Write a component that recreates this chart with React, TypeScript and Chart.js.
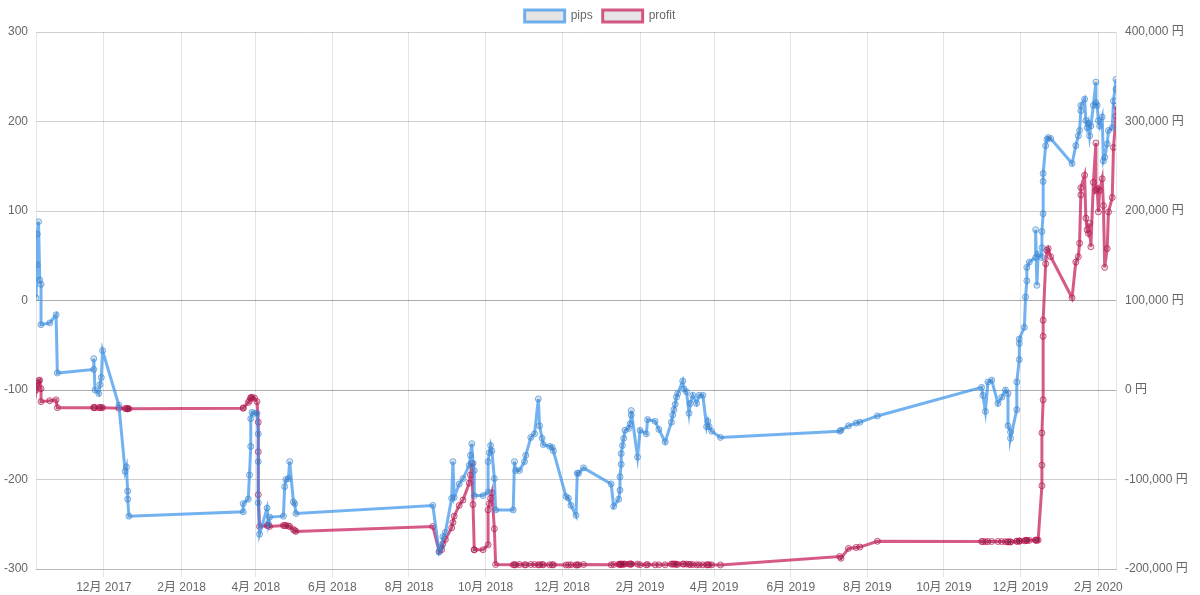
import React, { useEffect, useRef } from "react";
import { Chart, registerables } from "chart.js";

Chart.register(...registerables);

const dates: string[] = [
  "2017-10-08","2017-10-09","2017-10-09","2017-10-10","2017-10-11","2017-10-12","2017-10-12","2017-10-19","2017-10-24","2017-10-25",
  "2017-11-23","2017-11-23","2017-11-24","2017-11-27","2017-11-28","2017-11-29","2017-11-30","2017-12-13","2017-12-18","2017-12-19",
  "2017-12-20","2017-12-20","2017-12-21",
  "2018-03-22","2018-03-22","2018-03-26","2018-03-27","2018-03-28","2018-03-28","2018-03-29","2018-03-31","2018-04-02","2018-04-03",
  "2018-04-03","2018-04-03","2018-04-04","2018-04-10","2018-04-11","2018-04-12","2018-04-23","2018-04-24","2018-04-25","2018-04-27",
  "2018-04-28","2018-05-01","2018-05-02","2018-05-03",
  "2018-08-20","2018-08-25","2018-08-27","2018-08-28","2018-08-30","2018-09-04","2018-09-05","2018-09-06","2018-09-10","2018-09-13",
  "2018-09-18","2018-09-19","2018-09-20","2018-09-21","2018-09-22","2018-09-22","2018-09-29","2018-10-03","2018-10-03","2018-10-04",
  "2018-10-05","2018-10-06","2018-10-08","2018-10-09","2018-10-23","2018-10-24","2018-10-25","2018-10-28","2018-11-01","2018-11-02",
  "2018-11-06","2018-11-09","2018-11-12","2018-11-13","2018-11-15","2018-11-16","2018-11-21","2018-11-23","2018-11-24","2018-12-04",
  "2018-12-06","2018-12-08","2018-12-12","2018-12-13","2018-12-14","2018-12-18",
  "2019-01-09","2019-01-11","2019-01-15","2019-01-16","2019-01-16","2019-01-17","2019-01-17","2019-01-18","2019-01-19","2019-01-20",
  "2019-01-23","2019-01-24","2019-01-25","2019-01-25","2019-01-30","2019-02-01","2019-02-06","2019-02-07","2019-02-13","2019-02-16",
  "2019-02-21","2019-02-26","2019-02-27","2019-02-28","2019-03-01","2019-03-02","2019-03-03","2019-03-07","2019-03-08","2019-03-10",
  "2019-03-12","2019-03-13","2019-03-15","2019-03-18","2019-03-20","2019-03-23","2019-03-26","2019-03-27","2019-03-28","2019-03-30",
  "2019-04-06",
  "2019-07-10","2019-07-11","2019-07-17","2019-07-23","2019-07-26","2019-08-09",
  "2019-10-31","2019-11-01","2019-11-03","2019-11-05","2019-11-08","2019-11-13","2019-11-16","2019-11-19","2019-11-21","2019-11-21",
  "2019-11-23","2019-11-23","2019-11-28","2019-11-28","2019-11-30","2019-11-30","2019-11-30","2019-12-04","2019-12-05","2019-12-06",
  "2019-12-06","2019-12-08","2019-12-13","2019-12-13","2019-12-14","2019-12-15","2019-12-18","2019-12-18","2019-12-18","2019-12-19",
  "2019-12-19","2019-12-19","2019-12-21","2019-12-22","2019-12-23","2019-12-25",
  "2020-01-11","2020-01-14","2020-01-16","2020-01-17","2020-01-18","2020-01-18","2020-01-21","2020-01-22","2020-01-23","2020-01-24",
  "2020-01-25","2020-01-26","2020-01-28","2020-01-30","2020-01-30","2020-01-31","2020-02-01","2020-02-02","2020-02-04","2020-02-05",
  "2020-02-06","2020-02-08","2020-02-09","2020-02-12","2020-02-13","2020-02-15","2020-02-15"
];

const pips: number[] = [
  3, 40, 74, 88, 23, 18, -27, -25, -16, -81,
  -77, -65, -100, -104, -94, -86, -56, -117, -191, -186,
  -213, -222, -241,
  -236, -227, -222, -195, -163, -132, -125, -126, -126, -149,
  -180, -226, -261, -232, -249, -242, -241, -208, -200, -199,
  -180, -225, -227, -238,
  -229, -281, -275, -264, -259, -221, -180, -220, -205, -199,
  -184, -173, -160, -182, -190, -218, -218, -214, -180, -170,
  -162, -168, -199, -234, -234, -180, -190, -190, -180, -173,
  -153, -149, -110, -140, -154, -161, -163, -164, -168, -219,
  -221, -229, -240, -193, -193, -187,
  -205, -230, -222, -212, -197, -183, -171, -162, -154, -145,
  -143, -138, -128, -123, -175, -145, -149, -133, -135, -144,
  -158, -136, -128, -122, -116, -108, -104, -90, -99, -102,
  -126, -115, -106, -115, -106, -106, -141, -135, -141, -146,
  -153,
  -146, -145, -140, -137, -136, -129,
  -97, -106, -124, -91, -89, -115, -108, -100, -104, -140,
  -147, -154, -122, -91, -66, -48, -43, -30, 4, 22,
  37, 43, 48, 79, 17, 52, 48, 59, 77, 97,
  133, 142, 173, 180, 182, 181,
  153, 173, 184, 190, 212, 218, 225, 201, 193, 198,
  184, 195, 218, 244, 221, 218, 201, 195, 205, 156,
  160, 175, 190, 193, 223, 247, 236
];

const profit: number[] = [
  0, 7500, 3700, 10400, 11000, 1500, -13000, -12000, -11000, -19700,
  -19700, -19500, -19700, -19700, -19500, -19700, -19700, -20400, -20700, -20900,
  -20900, -20900, -20900,
  -20400, -20000, -14000, -12000, -9300, -8500, -8100, -9000, -13000, -36000,
  -69000, -117000, -152500, -151400, -151400, -152500, -151400, -151400, -151400, -152000,
  -152500, -156000, -157000, -158000,
  -152500, -180500, -178500, -172000, -167000, -154000, -148000, -141000, -129000, -123000,
  -104000, -95000, -82000, -128000, -178500, -178500, -178500, -173000, -134000, -127000,
  -121000, -115000, -155000, -195000, -195300, -195300, -195300, -195000, -195300, -195300,
  -195000, -195000, -195300, -195300, -195000, -195300, -195300, -195300, -195300, -195500,
  -195500, -195300, -195500, -195500, -195300, -195000,
  -195300, -195000, -194800, -194800, -194500, -194500, -194800, -194800, -194500, -194500,
  -194500, -194500, -194500, -194500, -194500, -195300, -195300, -195000, -195300, -195300,
  -195300, -194500, -194500, -194500, -194500, -194800, -194800, -194500, -194500, -194500,
  -194800, -195000, -195000, -195300, -195300, -195300, -195300, -195300, -195300, -195300,
  -195500,
  -186000, -188000, -177000, -176000, -175500, -169000,
  -169300, -169300, -169500, -169300, -169300, -169300, -169300, -169500, -169700, -169700,
  -169700, -169700, -169000, -169000, -168800, -168800, -168800, -168500, -168000, -168000,
  -168000, -168000, -167800, -167800, -167800, -167800, -107000, -84000, -48000, -11000,
  60000, 78000, 141000, 156000, 158000, 149000,
  103000, 143000, 149000, 164000, 218000, 226000, 240000, 192000, 179000, 175000,
  186000, 160000, 232000, 276000, 223000, 225000, 199000, 223000, 236000, 206000,
  137000, 158000, 199000, 215000, 271000, 306000, 317000
];

const xTickMonths: string[] = [
  "2017-12", "2018-02", "2018-04", "2018-06", "2018-08", "2018-10", "2018-12",
  "2019-02", "2019-04", "2019-06", "2019-08", "2019-10", "2019-12", "2020-02"
];

const seriesNames: string[] = ["pips", "profit"];
const pipsRange: number[] = [-300, 300, 100];
const profitRange: number[] = [-200000, 400000, 100000];

const BLUE = "rgba(54,145,235,0.7)";
const RED = "rgba(196,20,85,0.7)";
const GRID = "rgba(0,0,0,0.1)";
const ZERO = "rgba(0,0,0,0.25)";

function toTs(s: string): number {
  const [y, m, d] = s.split("-").map(Number);
  return Date.UTC(y, m - 1, d || 1);
}

export default function App() {
  const ref = useRef<HTMLCanvasElement | null>(null);

  useEffect(() => {
    if (!ref.current) return;
    Chart.defaults.font.family =
      "'Helvetica Neue', Helvetica, Arial, 'Liberation Sans', 'Noto Sans CJK JP', sans-serif";
    Chart.defaults.font.size = 12;
    Chart.defaults.color = "#666";

    const xs = dates.map(toTs);
    const zeroColor = (ctx: any) => (ctx.tick && ctx.tick.value === 0 ? ZERO : GRID);

    const chart = new Chart(ref.current, {
      type: "line",
      data: {
        datasets: [
          {
            label: seriesNames[0],
            data: xs.map((x, i) => ({ x, y: pips[i] })),
            yAxisID: "y",
            borderColor: BLUE,
            backgroundColor: "rgba(0,0,0,0.1)",
            borderWidth: 3,
            fill: false,
            tension: 0,
            pointRadius: 3,
            pointBorderWidth: 1,
            pointBorderColor: BLUE,
            pointBackgroundColor: "rgba(0,0,0,0.1)",
          },
          {
            label: seriesNames[1],
            data: xs.map((x, i) => ({ x, y: profit[i] })),
            yAxisID: "y1",
            borderColor: RED,
            backgroundColor: "rgba(0,0,0,0.1)",
            borderWidth: 3,
            fill: false,
            tension: 0,
            pointRadius: 3,
            pointBorderWidth: 1,
            pointBorderColor: RED,
            pointBackgroundColor: "rgba(0,0,0,0.1)",
          },
        ],
      },
      options: {
        responsive: false,
        animation: false,
        layout: { padding: 0 },
        plugins: {
          legend: {
            position: "top",
            labels: { boxWidth: 40, padding: 10, color: "#666", font: { size: 12 } },
          },
          tooltip: { enabled: false },
        },
        scales: {
          x: {
            type: "linear",
            min: xs[0],
            max: xs[xs.length - 1],
            afterBuildTicks: (scale: any) => {
              scale.ticks = xTickMonths.map((m) => ({ value: toTs(m + "-01") }));
            },
            afterFit: (scale: any) => {
              scale.height = 26;
            },
            ticks: {
              autoSkip: false,
              maxRotation: 0,
              padding: 3,
              callback: (v: any) => {
                const d = new Date(Number(v));
                return `${d.getUTCMonth() + 1}月 ${d.getUTCFullYear()}`;
              },
            },
            grid: { color: GRID, tickLength: 8 },
            border: { color: GRID },
          },
          y: {
            type: "linear",
            position: "left",
            min: pipsRange[0],
            max: pipsRange[1],
            afterFit: (scale: any) => {
              scale.width = 36;
            },
            ticks: { stepSize: pipsRange[2], padding: 8 },
            grid: { color: zeroColor, drawTicks: false },
            border: { color: GRID },
          },
          y1: {
            type: "linear",
            position: "right",
            min: profitRange[0],
            max: profitRange[1],
            afterFit: (scale: any) => {
              scale.width = 84;
            },
            ticks: {
              stepSize: profitRange[2],
              padding: 9,
              callback: (v: any) => `${Number(v).toLocaleString("en-US")} 円`,
            },
            grid: { color: zeroColor, drawTicks: false },
            border: { color: GRID },
          },
        },
      },
    } as any);

    return () => chart.destroy();
  }, []);

  return (
    <div style={{ position: "fixed", left: 0, top: 0, width: 1200, height: 595, background: "#fff" }}>
      <canvas ref={ref} width={1200} height={595} style={{ display: "block" }} />
    </div>
  );
}
